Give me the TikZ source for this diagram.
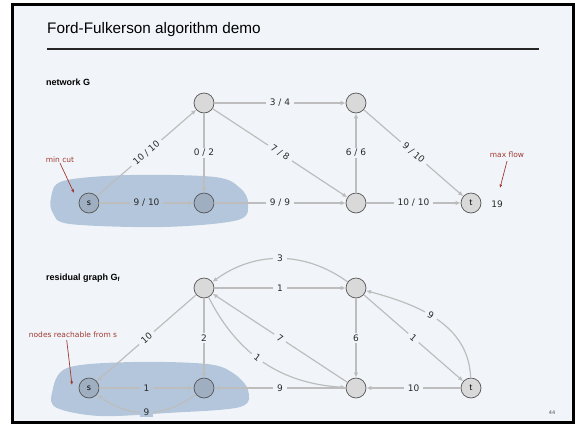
\documentclass[tikz,border=0pt]{standalone}
\usepackage{fontspec}
\setmainfont{Liberation Sans}
\newfontfamily\lab{DejaVu Sans}
\usetikzlibrary{arrows.meta}
\definecolor{bg}{HTML}{F1F5F9}
\definecolor{edgec}{HTML}{BDBDBD}
\definecolor{nodefill}{HTML}{D9D9D9}
\definecolor{nodeborder}{HTML}{555555}
\definecolor{blob}{HTML}{B3C6DB}
\definecolor{infill}{HTML}{9FAFC1}
\definecolor{annot}{HTML}{A33A32}
\definecolor{labtext}{HTML}{2A2A2A}
\begin{document}
\begin{tikzpicture}[x=1pt,y=-1pt,
  vtx/.style={circle, draw=nodeborder, fill=nodefill, line width=0.7pt, minimum size=20pt, inner sep=0pt, font=\lab\fontsize{8}{9}\selectfont},
  invtx/.style={vtx, fill=infill},
  edg/.style={draw=edgec, line width=1.2pt, -{Latex[length=5pt,width=4.5pt]}},
  elab/.style={fill=bg, inner xsep=4pt, inner ysep=1.5pt, font=\lab\fontsize{9}{10}\selectfont, text=labtext},
  annottext/.style={text=annot, inner sep=0pt, font=\lab\fontsize{7.5}{9}\selectfont},
  annotarrow/.style={draw=annot, line width=0.7pt, -{Latex[length=3.5pt,width=3pt]}},
  heading/.style={anchor=west, inner sep=0pt, font=\bfseries\fontsize{9}{10}\selectfont}
]
\useasboundingbox (0,0) rectangle (576,424);
\fill[white] (0,0) rectangle (576,424);
\fill[bg] (12.5,4.5) rectangle (573.5,422.5);
\draw[black, line width=3pt] (12.5,4.5) rectangle (573.5,422.5);

% title
\node[anchor=base west, inner sep=0pt, font=\fontsize{15.3}{18}\selectfont] (title) at (47,33) {Ford-Fulkerson algorithm demo};
\draw[line width=1.3pt, black!85] (47,49) -- (539,49);

% headings
\node[heading] (ng) at (46,82) {network G};
\node[heading] (rg) at (46,278) {residual graph G\textsubscript{f}};

% blobs
\fill[blob] plot[smooth cycle, tension=0.55] coordinates {(51,198) (63,181) (130,175) (215,177) (240,188) (248,203) (238,220) (163,227) (70,224) (53,213)};
\fill[blob] plot[smooth cycle, tension=0.55] coordinates {(52,393) (67,368) (133,362) (207,364) (233,373) (248,390) (240,407) (167,413) (100,416) (57,408)};

% network G
\node[invtx] (s1) at (89,203) {s};
\node[vtx] (a1) at (204,103) {};
\node[invtx] (b1) at (204,203) {};
\node[vtx] (c1) at (356,103) {};
\node[vtx] (d1) at (356,203) {};
\node[vtx] (t1) at (471,203) {t};

\draw[edg] (s1) -- node[elab,sloped] {10 / 10} (a1);
\draw[edg] (a1) -- node[elab] {0 / 2} (b1);
\draw[edg] (a1) -- node[elab] {3 / 4} (c1);
\draw[edg] (a1) -- node[elab,sloped] {7 / 8} (d1);
\draw[edg] (s1) -- node[elab,fill=blob] {9 / 10} (b1);
\draw[edg] (b1) -- node[elab] {9 / 9} (d1);
\draw[edg] (d1) -- node[elab] {6 / 6} (c1);
\draw[edg] (c1) -- node[elab,sloped] {9 / 10} (t1);
\draw[edg] (d1) -- node[elab] {10 / 10} (t1);

\node[text=labtext, font=\lab\fontsize{9}{10}\selectfont] (flow) at (497,204) {19};

\node[annottext] (mc) at (60,160) {min cut};
\coordinate (mcend) at (74,193);
\draw[annotarrow] (mc.south) -- (mcend);
\node[annottext] (mf) at (507,155) {max flow};
\coordinate (mfend) at (500,188);
\draw[annotarrow] ([yshift=-3pt]mf.south) -- (mfend);

% residual graph
\node[invtx] (s2) at (89,388) {s};
\node[vtx] (a2) at (204,288) {};
\node[invtx] (b2) at (204,388) {};
\node[vtx] (c2) at (356,288) {};
\node[vtx] (d2) at (356,388) {};
\node[vtx] (t2) at (471,388) {t};

\draw[edg] (a2) -- node[elab,sloped] {10} (s2);
\draw[edg] (s2) -- node[elab,fill=blob] {1} (b2);
\draw[edg] (b2) to[bend left=38] node[elab,fill=blob] {9} (s2);
\draw[edg] (a2) -- node[elab] {2} (b2);
\draw[edg] (d2) -- node[elab] {9} (b2);
\draw[edg] (a2) -- node[elab] {1} (c2);
\draw[edg] (c2) to[bend right=36] node[elab] {3} (a2);
\draw[edg] (d2) -- node[elab,sloped] {7} (a2);
\draw[edg] (a2) to[bend right=30] node[elab,sloped,pos=0.45] {1} (d2);
\draw[edg] (c2) -- node[elab] {6} (d2);
\draw[edg] (t2) -- node[elab] {10} (d2);
\draw[edg] (c2) -- node[elab,sloped] {1} (t2);
\draw[edg] (t2) to[out=92,in=-15] node[elab,sloped,pos=0.55] {9} (c2);

\node[annottext] (nr) at (73,335) {nodes reachable from s};
\coordinate (nrend) at (72,385);
\draw[annotarrow] ([xshift=38pt,yshift=-2pt]nr.south west) -- (nrend);

\node[text=black!70, font=\lab\fontsize{5}{6}\selectfont] (pg) at (552,413) {44};
\end{tikzpicture}
\end{document}
